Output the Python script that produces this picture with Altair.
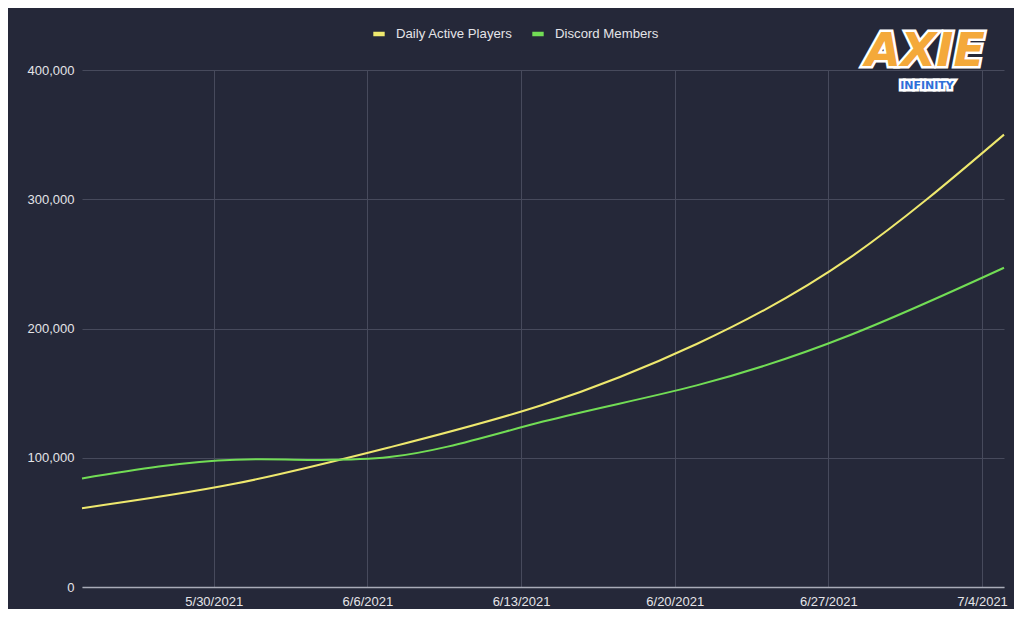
import altair as alt
import pandas as pd

dates = ["2021-05-24", "2021-05-31", "2021-06-07", "2021-06-14",
         "2021-06-21", "2021-06-28", "2021-07-05"]
daily_active = [61000, 80000, 108000, 141000, 188000, 255000, 350000]
discord_members = [84000, 98500, 100500, 128000, 156000, 195000, 247000]
series_names = ["Daily Active Players", "Discord Members"]
series_colors = ["#eee86e", "#72dd55"]
tick_dates = ["2021-05-30", "2021-06-06", "2021-06-13", "2021-06-20",
              "2021-06-27", "2021-07-04"]
y_ticks = [0, 100000, 200000, 300000, 400000]

rows = []
for d, a, b in zip(dates, daily_active, discord_members):
    rows.append({"date": d, "series": series_names[0], "value": a})
    rows.append({"date": d, "series": series_names[1], "value": b})
df = pd.DataFrame(rows)

FONT = "Liberation Sans"
BG = "#252839"
LABEL = "#e4e4e8"

def dt(s):
    y, m, d = [int(p) for p in s.split("-")]
    return alt.DateTime(year=y, month=m, date=d, utc=True)

lines = alt.Chart(df).mark_line(strokeWidth=2, interpolate="natural").encode(
    x=alt.X("date:T",
            scale=alt.Scale(type="utc", domain=[dt(dates[0]), dt(dates[-1])]),
            axis=alt.Axis(values=[dt(t) for t in tick_dates], format="%-m/%-d/%Y",
                          title=None, grid=True, gridColor="#474a5c", ticks=False,
                          domain=True, domainColor="#a9abb8", domainWidth=1.5,
                          labelColor=LABEL, labelFontSize=13, labelFont=FONT,
                          labelPadding=8)),
    y=alt.Y("value:Q",
            scale=alt.Scale(domain=[0, 400000], nice=False),
            axis=alt.Axis(values=y_ticks, format=",.0f", title=None, grid=True,
                          gridColor="#474a5c", ticks=False, domain=False,
                          labelColor=LABEL, labelFontSize=13, labelFont=FONT,
                          labelPadding=8)),
    color=alt.Color("series:N",
                    scale=alt.Scale(domain=series_names, range=series_colors),
                    legend=alt.Legend(title=None, orient="none", direction="horizontal",
                                      legendX=289, legendY=-44,
                                      symbolType="stroke", symbolSize=130,
                                      symbolStrokeWidth=4.5,
                                      labelColor=LABEL, labelFontSize=13.2,
                                      labelFont=FONT, columnPadding=10,
                                      labelOffset=9)),
)

logo_df = pd.DataFrame({"t": ["AXIE"]})
logo_main = alt.Chart(logo_df).mark_text(
    font="DejaVu Sans", fontWeight="bold", fontSize=46, color="#f4a93a",
    stroke="white", strokeWidth=5, align="center", baseline="middle",
    fontStyle="italic").encode(x=alt.value(843), y=alt.value(-18), text="t:N")
logo_main2 = alt.Chart(logo_df).mark_text(
    font="DejaVu Sans", fontWeight="bold", fontSize=46, color="#f4a93a",
    align="center", baseline="middle", fontStyle="italic"
).encode(x=alt.value(843), y=alt.value(-18), text="t:N")
sub_df = pd.DataFrame({"t": ["INFINITY"]})
logo_sub = alt.Chart(sub_df).mark_text(
    font="DejaVu Sans", fontWeight="bold", fontSize=11, color="#2f6fd8",
    stroke="white", strokeWidth=5, align="center", baseline="middle"
).encode(x=alt.value(845), y=alt.value(16), text="t:N")
logo_sub2 = alt.Chart(sub_df).mark_text(
    font="DejaVu Sans", fontWeight="bold", fontSize=11, color="#2f6fd8",
    align="center", baseline="middle"
).encode(x=alt.value(845), y=alt.value(16), text="t:N")

chart = alt.layer(lines, logo_main, logo_main2, logo_sub, logo_sub2).properties(
    width=922, height=517,
    background=BG,
    padding={"left": 74, "top": 62, "right": 10, "bottom": 22},
    autosize=alt.AutoSizeParams(type="none"),
).configure_view(stroke=None)

chart.save("out.html", embed_options={"renderer": "svg", "actions": False})
